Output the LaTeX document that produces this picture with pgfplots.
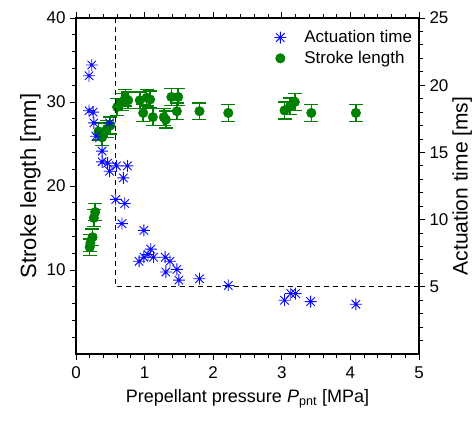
\documentclass[border=0pt]{standalone}
\usepackage{fontspec}
\setmainfont{Liberation Sans}
\usepackage{pgfplots}
\pgfplotsset{compat=1.18}

% eight-armed asterisk like the Origin marker
\pgfdeclareplotmark{ast8}{%
  \pgfpathmoveto{\pgfqpoint{-\pgfplotmarksize}{0pt}}%
  \pgfpathlineto{\pgfqpoint{\pgfplotmarksize}{0pt}}%
  \pgfpathmoveto{\pgfqpoint{0pt}{-\pgfplotmarksize}}%
  \pgfpathlineto{\pgfqpoint{0pt}{\pgfplotmarksize}}%
  \pgfpathmoveto{\pgfqpoint{-0.707\pgfplotmarksize}{-0.707\pgfplotmarksize}}%
  \pgfpathlineto{\pgfqpoint{0.707\pgfplotmarksize}{0.707\pgfplotmarksize}}%
  \pgfpathmoveto{\pgfqpoint{-0.707\pgfplotmarksize}{0.707\pgfplotmarksize}}%
  \pgfpathlineto{\pgfqpoint{0.707\pgfplotmarksize}{-0.707\pgfplotmarksize}}%
  \pgfusepathqstroke
}

\definecolor{sgreen}{RGB}{0,128,0}
\definecolor{ablue}{RGB}{10,10,255}

\pgfplotstableread{
p     s     e
0.20  12.7  1.0
0.21  13.2  1.0
0.24  13.9  1.0
0.26  16.2  1.0
0.28  16.9  1.0
0.33  26.5  1.0
0.38  25.8  1.0
0.45  26.8  1.0
0.50  27.2  1.0
0.60  29.4  1.0
0.67  30.0  1.0
0.72  30.5  1.0
0.76  30.2  1.0
0.93  30.2  1.0
0.98  28.7  1.0
1.03  30.5  1.0
1.08  30.3  1.0
1.12  28.2  1.0
1.28  28.2  1.0
1.31  27.9  1.0
1.39  30.6  1.0
1.49  30.6  1.0
1.47  28.9  1.0
1.80  28.9  1.0
2.22  28.7  1.0
3.04  29.0  1.0
3.12  29.5  1.0
3.19  30.0  1.0
3.43  28.7  1.0
4.08  28.7  1.0
}\strokedata

\pgfplotstableread{
p     t
0.23  21.5
0.19  20.7
0.19  18.1
0.25  18.0
0.26  17.2
0.29  16.2
0.38  15.1
0.38  14.3
0.46  14.2
0.49  13.6
0.49  17.2
0.59  14.0
0.75  14.0
0.69  13.1
0.58  11.5
0.71  11.2
0.67  9.7
0.99  9.2
0.92  6.9
0.99  7.2
1.09  7.8
1.05  7.4
1.13  7.2
1.30  7.2
1.37  6.9
1.31  6.1
1.47  6.3
1.50  5.5
1.80  5.6
2.22  5.1
3.04  4.0
3.13  4.5
3.20  4.5
3.42  3.9
4.08  3.7
}\timedata

\begin{document}
\begin{tikzpicture}
\begin{axis}[
  scale only axis, width=343pt, height=336pt,
  xmin=0, xmax=5, ymin=0, ymax=40,
  xtick={0,1,2,3,4,5}, minor x tick num=4,
  ytick={10,20,30,40},
  minor ytick={2,4,...,38},
  xtick pos=both, ytick pos=left,
  tick align=outside,
  major tick length=6pt, minor tick length=3.5pt,
  tick style={black, line width=0.9pt},
  axis line style={line width=1.1pt},
  tick label style={font=\fontsize{17}{17}\selectfont},
  xticklabel style={yshift=-3pt},
  yticklabel style={xshift=-1pt},
  xticklabel={\pgfmathprintnumber[assume math mode=true]{\tick}},
  yticklabel={\pgfmathprintnumber[assume math mode=true]{\tick}},
  xlabel={Prepellant pressure \textit{P}\textsubscript{pnt} [MPa]},
  xlabel style={font=\fontsize{18}{18}\selectfont, yshift=-4pt},
  ylabel={Stroke length [mm]},
  ylabel style={font=\fontsize{22}{22}\selectfont, yshift=-1pt},
]
\addplot[only marks, mark=*, mark size=4.8pt, color=sgreen,
  error bars/.cd, y dir=both, y explicit,
  error mark options={rotate=90, mark size=7pt, line width=1.5pt, sgreen},
  error bar style={line width=1.5pt, sgreen}]
  table[x=p, y=s, y error=e] {\strokedata};
\end{axis}

\begin{axis}[
  scale only axis, width=343pt, height=336pt,
  xmin=0, xmax=5, ymin=0, ymax=25,
  axis x line=none,
  axis y line*=right,
  ytick={5,10,15,20,25},
  minor ytick={1,...,24},
  tick align=outside,
  major tick length=6pt, minor tick length=3.5pt,
  tick style={black, line width=0.9pt},
  axis line style={line width=1.1pt},
  tick label style={font=\fontsize{17}{17}\selectfont},
  yticklabel={\pgfmathprintnumber[assume math mode=true]{\tick}},
  yticklabel style={xshift=1pt},
  ylabel={Actuation time [ms]},
  ylabel style={font=\fontsize{21}{21}\selectfont, yshift=3pt},
  legend style={draw=none, fill=none, at={(0.995,0.975)}, anchor=north east,
    font=\fontsize{17}{17}\selectfont, row sep=3pt,
    /tikz/every odd column/.append style={column sep=16pt}},
  legend cell align=left,
]
\addplot[only marks, mark=ast8, mark size=6pt, ablue, line width=0.9pt]
  table[x=p, y=t] {\timedata};
\addlegendentry{Actuation time}
\addlegendimage{only marks, mark=*, mark size=4.8pt, sgreen}
\addlegendentry{Stroke length}
\addplot[forget plot, dashed, line width=1.1pt, dash pattern=on 5pt off 4pt]
  coordinates {(0.58,25) (0.58,5) (5,5)};
\end{axis}

\pgfresetboundingbox
\path ([xshift=-76pt,yshift=-67pt]current axis.south west)
  rectangle ([xshift=57pt,yshift=18pt]current axis.north east);
\end{tikzpicture}
\end{document}
